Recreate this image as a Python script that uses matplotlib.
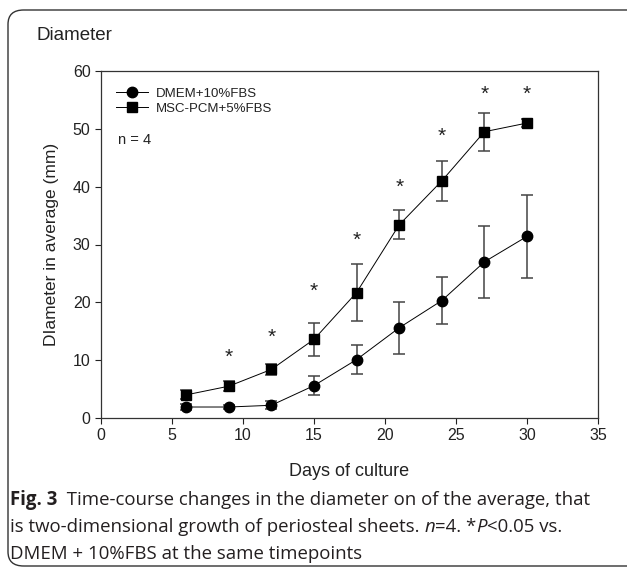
import numpy as np
import matplotlib
matplotlib.use('Agg')
from matplotlib import pyplot as plt
from matplotlib.patches import FancyBboxPatch
from matplotlib.lines import Line2D

plt.rcParams['font.family'] = ['Liberation Sans', 'DejaVu Sans']

# 数据
days = [6, 9, 12, 15, 18, 21, 24, 27, 30]
dmem_mean = [1.9, 1.9, 2.2, 5.6, 10.1, 15.6, 20.3, 27.0, 31.4]
dmem_err = [0.5, 0.3, 0.7, 1.7, 2.5, 4.5, 4.0, 6.2, 7.2]
msc_mean = [4.0, 5.5, 8.4, 13.6, 21.7, 33.4, 41.0, 49.5, 51.0]
msc_err = [0.8, 0.9, 1.0, 2.8, 5.0, 2.5, 3.5, 3.3, 0.7]
star_days = [9, 12, 15, 18, 21, 24, 27, 30]
star_y = [10.5, 14.0, 21.9, 30.8, 39.9, 48.7, 56.0, 56.0]
labels = ['DMEM+10%FBS', 'MSC-PCM+5%FBS']

W, H = 627, 571
fig = plt.figure(figsize=(W / 100, H / 100), dpi=100)

# 外框
frame = FancyBboxPatch((8 / W, 5 / H), 640 / W, 556 / H,
                       boxstyle='round,pad=0,rounding_size=0.025',
                       transform=fig.transFigure, fill=False,
                       edgecolor='#333333', linewidth=1.0, clip_on=False)
fig.patches.append(frame)

ax = fig.add_axes([101 / W, 1 - 418 / H, 497 / W, 347 / H])

ax.errorbar(days, dmem_mean, yerr=dmem_err, fmt='-o', color='black',
            ecolor='#444444', elinewidth=1.1, capsize=4, capthick=1.1,
            markersize=7.5, linewidth=0.7)
ax.errorbar(days, msc_mean, yerr=msc_err, fmt='-s', color='black',
            ecolor='#444444', elinewidth=1.1, capsize=4, capthick=1.1,
            markersize=7, linewidth=0.7)

for d, y in zip(star_days, star_y):
    ax.text(d, y, '*', ha='center', va='center', fontsize=15, color='#222222')

ax.set_xlim(0, 35)
ax.set_ylim(0, 60)
ax.set_xticks(range(0, 36, 5))
ax.set_yticks(range(0, 61, 10))
ax.tick_params(labelsize=11.5, length=4, width=0.8, direction='out', colors='#222222')
for s in ax.spines.values():
    s.set_linewidth(0.9)
    s.set_color('#333333')

ax.set_xlabel('Days of culture', fontsize=13, labelpad=14, color='#222222')
ax.set_ylabel('DIameter in average (mm)', fontsize=12.5, labelpad=10, color='#222222')

handles = [Line2D([], [], color='black', marker='o', markersize=7.5, linewidth=0.7),
           Line2D([], [], color='black', marker='s', markersize=7, linewidth=0.7)]
leg = ax.legend(handles, labels, loc='upper left', bbox_to_anchor=(0.015, 0.975),
                frameon=False, fontsize=9.5, handlelength=2.4, handletextpad=0.6,
                labelspacing=0.2, borderaxespad=0.2)
for t in leg.get_texts():
    t.set_color('#222222')
ax.text(0.035, 0.80, 'n = 4', transform=ax.transAxes, fontsize=10.5,
        ha='left', va='center', color='#222222')

fig.text(36 / W, 1 - 36 / H, 'Diameter', fontsize=13.5, ha='left', va='center',
         color='#222222')

# 图注, 分段放置
cap_font = ['Open Sans', 'DejaVu Sans']
cap_size = 13.4
lines = [
    [('Fig. 3', 'bold', 'normal'), ('  Time-course changes in the diameter on of the average, that', 'normal', 'normal')],
    [('is two-dimensional growth of periosteal sheets. ', 'normal', 'normal'), ('n', 'normal', 'italic'),
     ('=4. *', 'normal', 'normal'), ('P', 'normal', 'italic'), ('<0.05 vs.', 'normal', 'normal')],
    [('DMEM + 10%FBS at the same timepoints', 'normal', 'normal')],
]
line_y = [505, 532, 559]
fig.canvas.draw()
renderer = fig.canvas.get_renderer()
for parts, yy in zip(lines, line_y):
    x = 10
    for txt, wt, st in parts:
        t = fig.text(x / W, 1 - yy / H, txt, fontsize=cap_size, family=cap_font,
                     weight=wt, style=st, ha='left', va='baseline', color='#231f20')
        bb = t.get_window_extent(renderer)
        x = x + bb.width

fig.savefig('out.png', dpi=100)
